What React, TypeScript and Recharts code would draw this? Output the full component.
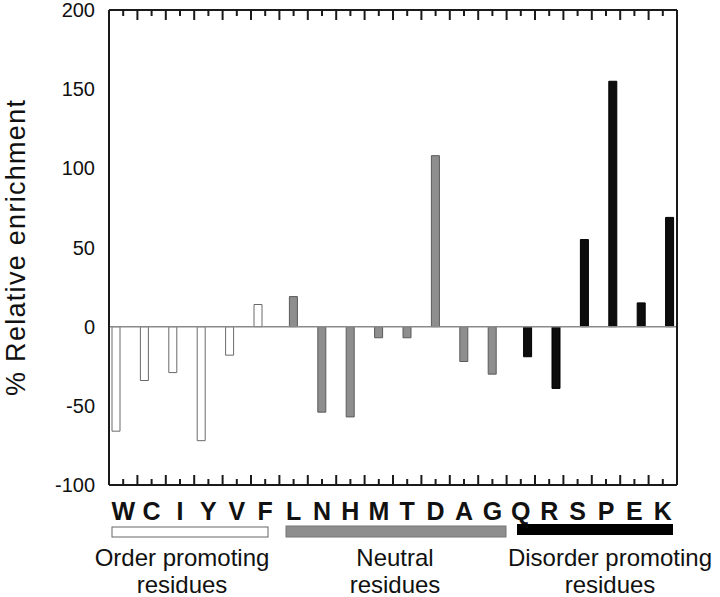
import React from 'react';
import { BarChart, Bar, XAxis, YAxis, ReferenceLine } from 'recharts';

// residues on the x axis, grouped as in the figure
const residues = ['W', 'C', 'I', 'Y', 'V', 'F', 'L', 'N', 'H', 'M', 'T', 'D', 'A', 'G', 'Q', 'R', 'S', 'P', 'E', 'K'];
const orderResidues = ['W', 'C', 'I', 'Y', 'V', 'F'];
const orderValues = [-66, -34, -29, -72, -18, 14];
const neutralResidues = ['L', 'N', 'H', 'M', 'T', 'D', 'A', 'G'];
const neutralValues = [19, -54, -57, -7, -7, 108, -22, -30];
const disorderResidues = ['Q', 'R', 'S', 'P', 'E', 'K'];
const disorderValues = [-19, -39, 55, 155, 15, 69];

const yMajorTicks = [-100, -50, 0, 50, 100, 150, 200];

const FONT = '"Liberation Sans", Arial, Helvetica, sans-serif';
const FRAME = '#1a1a1a';

const W = 720;
const H = 597;
const MARGIN = { top: 10, right: 33, bottom: 72, left: 0 };
const LEFT_W = 109;
const RIGHT_W = 10;
const BOTTOM_H = 40;
const PLOT_W = W - MARGIN.left - MARGIN.right - LEFT_W - RIGHT_W;
const PLOT_H = H - MARGIN.top - MARGIN.bottom - BOTTOM_H;
const BAND = PLOT_W / residues.length;

const pick = (names: string[], values: number[], r: string) => {
  const i = names.indexOf(r);
  return i >= 0 ? values[i] : null;
};

const data = residues.map((r) => ({
  residue: r,
  order: pick(orderResidues, orderValues, r),
  neutral: pick(neutralResidues, neutralValues, r),
  disorder: pick(disorderResidues, disorderValues, r),
}));

const yTicks: number[] = [];
for (let v = -100; v <= 200; v += 10) yTicks.push(v);

// bottom axis tick: residue letter plus inward marks on bottom and top edges
// (short at category centres, long at category boundaries)
const ResidueTick = (props: any) => {
  const { x, y, payload, index } = props;
  const last = index === residues.length - 1;
  const top = y - PLOT_H;
  const marks = [
    { cx: x, len: 6 },
    { cx: x - BAND / 2, len: 10 },
    ...(last ? [{ cx: x + BAND / 2, len: 10 }] : []),
  ];
  return (
    <g>
      {marks.map((m, i) => (
        <g key={i} stroke={FRAME} strokeWidth={2}>
          <line x1={m.cx} x2={m.cx} y1={y} y2={y - m.len} />
          <line x1={m.cx} x2={m.cx} y1={top} y2={top + m.len} />
        </g>
      ))}
      <text x={x} y={y + 35} textAnchor="middle" fontFamily={FONT} fontWeight="bold" fontSize={25} fill="#111">
        {payload.value}
      </text>
    </g>
  );
};

const ValueLabel = (props: any) => {
  const { x, y, payload } = props;
  if (!yMajorTicks.includes(payload.value)) return <g />;
  return (
    <text x={x - 14} y={y} dy={7} textAnchor="end" fontFamily={FONT} fontSize={20} fill="#111">
      {payload.value}
    </text>
  );
};

// right axis tick: inward marks on right and left edges
const EdgeTick = (props: any) => {
  const { x, y, payload } = props;
  const len = yMajorTicks.includes(payload.value) ? 10 : 5;
  const left = x - PLOT_W;
  return (
    <g stroke={FRAME} strokeWidth={2}>
      <line x1={x} x2={x - len} y1={y} y2={y} />
      <line x1={left} x2={left + len} y1={y} y2={y} />
    </g>
  );
};

const axisLine = { stroke: FRAME, strokeWidth: 2 };

export default function App() {
  return (
    <div style={{ position: 'absolute', left: 0, top: 0, width: W, height: H, background: '#fff' }}>
      <BarChart width={W} height={H} data={data} margin={MARGIN} barSize={8} barGap={-1}>
        <XAxis
          xAxisId="cat"
          dataKey="residue"
          interval={0}
          height={BOTTOM_H}
          tickSize={0}
          tickMargin={0}
          tickLine={false}
          axisLine={axisLine}
          tick={<ResidueTick />}
        />
        <YAxis
          yAxisId="left"
          type="number"
          domain={[-100, 200]}
          ticks={yTicks}
          interval={0}
          width={LEFT_W}
          tickSize={0}
          tickMargin={0}
          tickLine={false}
          axisLine={axisLine}
          tick={<ValueLabel />}
        />
        <YAxis
          yAxisId="right"
          orientation="right"
          type="number"
          domain={[-100, 200]}
          ticks={yTicks}
          interval={0}
          width={RIGHT_W}
          tickSize={0}
          tickMargin={0}
          tickLine={false}
          axisLine={axisLine}
          tick={<EdgeTick />}
        />
        <ReferenceLine xAxisId="cat" yAxisId="left" y={200} stroke={FRAME} strokeWidth={2} />
        <ReferenceLine xAxisId="cat" yAxisId="left" y={0} stroke="#8a8a8a" strokeWidth={1.5} />
        <Bar xAxisId="cat" yAxisId="left" dataKey="order" fill="#ffffff" stroke="#6a6a6a" strokeWidth={1} isAnimationActive={false} />
        <Bar xAxisId="cat" yAxisId="left" dataKey="neutral" fill="#8e8e8e" stroke="#5a5a5a" strokeWidth={1} isAnimationActive={false} />
        <Bar xAxisId="cat" yAxisId="left" dataKey="disorder" fill="#0d0d0d" stroke="#000" strokeWidth={1} isAnimationActive={false} />
      </BarChart>

      <svg width={W} height={H} style={{ position: 'absolute', left: 0, top: 0, pointerEvents: 'none' }}>
        <text
          transform="translate(25,248) rotate(-90)"
          textAnchor="middle"
          fontFamily={FONT}
          fontSize={27}
          textLength={296}
          lengthAdjust="spacing"
          fill="#111"
        >
          % Relative enrichment
        </text>

        <rect x={112} y={527} width={156} height={10} fill="#fff" stroke="#666" strokeWidth={1} />
        <rect x={286} y={526} width={220} height={11} fill="#8e8e8e" stroke="#777" strokeWidth={1} />
        <rect x={517} y={524} width={156} height={11} fill="#000" />

        <g fontFamily={FONT} fontSize={24} fill="#111" textAnchor="middle">
          <text x={182} y={566}>Order promoting</text>
          <text x={182} y={593}>residues</text>
          <text x={395} y={566}>Neutral</text>
          <text x={395} y={593}>residues</text>
          <text x={610} y={566}>Disorder promoting</text>
          <text x={610} y={593}>residues</text>
        </g>
      </svg>
    </div>
  );
}
